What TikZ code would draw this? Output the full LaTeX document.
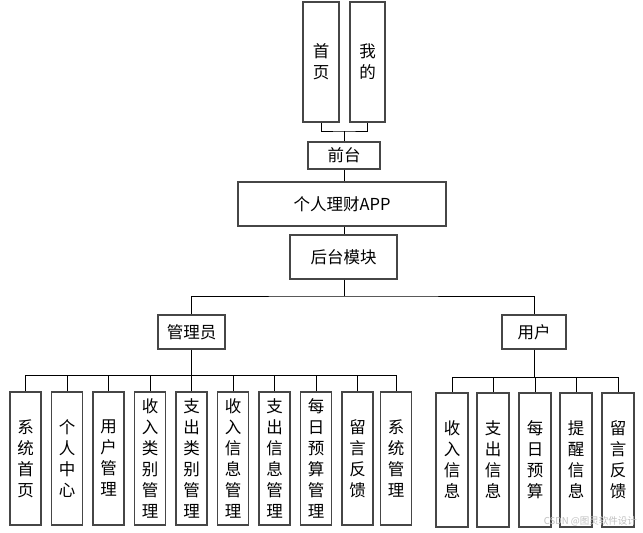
\documentclass[tikz,border=0pt]{standalone}
\usepackage{fontspec}
\setmainfont{Noto Sans CJK SC}
\usepackage{xcolor}
\definecolor{boxline}{RGB}{70,70,70}

\begin{document}
\begin{tikzpicture}[x=1pt, y=-1pt,
    box/.style={rectangle, draw=boxline, fill=white, line width=1.1pt, inner sep=0pt, align=center, font=\fontsize{16.5}{21}\selectfont},
    leaf/.style={box, minimum width=31pt, minimum height=133pt},
    link/.style={draw=black, line width=0.9pt}]

\useasboundingbox (0,0) rectangle (643,533);

% front end
\node [box, minimum width=36pt, minimum height=120pt] (home) at (321,62) {首\\页};
\node [box, minimum width=35pt, minimum height=120pt] (mine) at (367.5,62) {我\\的};
\node [box, minimum width=72pt, minimum height=27pt] (front) at (344,155.5) {前台};
\node [box, minimum width=208pt, minimum height=44pt] (app) at (342,204) {个人理财APP};
\node [box, minimum width=107pt, minimum height=44pt] (back) at (343.5,257) {后台模块};

% roles
\node [box, minimum width=67pt, minimum height=34pt] (admin) at (191.5,332) {管理员};
\node [box, minimum width=64pt, minimum height=34pt] (user) at (534,332) {用户};

% admin functions
\foreach \x/\t [count=\i] in {25.5/系\\统\\首\\页, 67/个\\人\\中\\心, 108.5/用\\户\\管\\理,
    150/收\\入\\类\\别\\管\\理, 191.5/支\\出\\类\\别\\管\\理, 233/收\\入\\信\\息\\管\\理,
    274.5/支\\出\\信\\息\\管\\理, 316/每\\日\\预\\算\\管\\理, 357.5/留\\言\\反\\馈, 396/系\\统\\管\\理}
    \node [leaf] (a\i) at (\x,458.5) {\t};

% user functions
\foreach \x/\t [count=\i] in {452/收\\入\\信\\息, 493/支\\出\\信\\息, 535/每\\日\\预\\算,
    576/提\\醒\\信\\息, 618/留\\言\\反\\馈}
    \node [leaf, minimum width=32pt, minimum height=134pt] (u\i) at (\x,460) {\t};

\coordinate (fj) at (344,131);
\coordinate (bj) at (344,296);
\coordinate (aj) at (191.5,375);
\coordinate (uj) at (534,377);

\draw [link] (home.south) |- (fj) -| (mine.south);
\draw [link] (fj) -- (front.north);
\draw [link] (front.south) -- (front.south |- app.north);
\draw [link] (front.south |- app.south) -- (front.south |- back.north);
\draw [link] (front.south |- back.south) -- (bj);
\draw [link] (admin.north) |- (bj) -| (user.north);

\draw [link] (admin.south) -- (aj);
\foreach \i in {1,...,10}
    \draw [link] (aj) -| (a\i.north);
\draw [link] (user.south) -- (uj);
\foreach \i in {1,...,5}
    \draw [link] (uj) -| (u\i.north);

\node [anchor=east, text=black!25, font=\fontsize{9.5}{11}\selectfont, inner sep=0pt] (mark) at (637,521) {CSDN @图灵软件设计};

\end{tikzpicture}
\end{document}
